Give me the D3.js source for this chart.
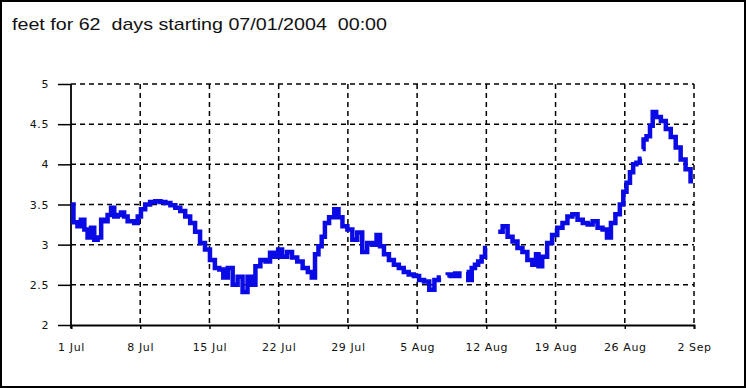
<!DOCTYPE html>
<html>
<head>
<meta charset="utf-8">
<script src="https://cdn.jsdelivr.net/npm/d3@7"></script>
<style>
  body { margin: 0; background: #fff; }
  svg { display: block; font-family: "Liberation Sans", Arial, sans-serif; }
</style>
</head>
<body>
<div id="my_dataviz"></div>
<script>
// title and axis settings
var title = "feet for 62  days starting 07/01/2004  00:00";
var startDate = Date.UTC(2004, 6, 1);
var endDate = Date.UTC(2004, 8, 2);
var yTicks = [2, 2.5, 3, 3.5, 4, 4.5, 5];
var xTickLabels = ["1 Jul", "8 Jul", "15 Jul", "22 Jul", "29 Jul", "5 Aug", "12 Aug", "19 Aug", "26 Aug", "2 Sep"];

// days since 07/01 00:00, null = missing record
var days = [
  0, 0.5, 0.8, 1.2, 1.5, 1.85, 2.2, 2.5, 2.9, 3.2, 3.5, 3.9, 4.2, 4.55, 4.9, 5.2, 5.55, 5.9, 6.2, 6.6, 6.9,
  7.25, 7.75, 8.25, 8.8, 9.3, 9.8, 10.3, 10.8, 11.3, 11.8, 12.3, 12.8, 13.3, 13.8, 14.3, 14.8,
  15.2, 15.6, 16.1, 16.6, 17.1, 17.6, 18.1, 18.4, 18.9, 19.4, 19.95, 20.3, 20.8, 21.1, 21.6, 22.1, 22.6,
  23.15, 23.7, 24.2, 24.5, 24.85, 25.2, 25.5, 25.85, 26.35, 26.9, 27.2, 27.7, 28.2, 28.7, 29.2, 29.7, 30.2,
  30.7, 31.1, 31.4, 31.9, 32.4, 32.9, 33.4, 33.9, 34.4, 34.95, 35.45, 35.95, 36.5, 37.0, 37.4,
  37.7, 38.05, 38.15, 38.65, 39.05, 39.5, 39.75, 40.0, 40.35, 40.7, 41.0, 41.35, 41.7, 42.05,
  42.6, 43.2, 43.4, 43.9, 44.4, 44.9, 45.4, 45.9, 46.4, 46.9, 47.15, 47.4, 47.9, 48.4, 48.9, 49.45,
  49.95, 50.45, 50.95, 51.5, 52.0, 52.5, 53.0, 53.5, 54.0, 54.4, 54.8, 55.3, 55.7, 56.0, 56.35, 56.7,
  57.0, 57.35, 57.7, 57.75, 57.8, 58.0, 58.4, 58.7, 58.95, 59.4, 59.9, 60.4, 60.9, 61.4, 61.9, 62.4, 62.9
];
var levels = [
  3.5, 3.28, 3.23, 3.31, 3.19, 3.09, 3.21, 3.06, 3.09, 3.31, 3.29, 3.37, 3.46, 3.35, 3.37, 3.4, 3.35, 3.29, 3.29, 3.27, 3.35,
  3.44, 3.5, 3.53, 3.54, 3.53, 3.52, 3.49, 3.46, 3.42, 3.35, 3.27, 3.16, 3.02, 2.94, 2.81, 2.71,
  2.69, 2.59, 2.71, 2.5, 2.6, 2.41, 2.6, 2.5, 2.73, 2.81, 2.79, 2.9, 2.85, 2.94, 2.85, 2.91, 2.84,
  2.79, 2.71, 2.66, 2.59, 2.88, 2.98, 3.1, 3.27, 3.34, 3.44, 3.34, 3.23, 3.19, 3.06, 3.15, 2.91, 3.02,
  3.0, 3.12, 2.98, 2.88, 2.81, 2.75, 2.71, 2.66, 2.63, 2.61, 2.56, 2.54, 2.44, 2.56, 2.59,
  null, 2.62, 2.63, 2.61, 2.64, 2.61, null, 2.66, 2.56, 2.71, 2.75, 2.79, 2.85, 2.96,
  null, 3.16, 3.16, 3.23, 3.1, 3.04, 2.96, 2.91, 2.81, 2.75, 2.88, 2.73, 2.85, 3.02, 3.12, 3.21,
  3.27, 3.35, 3.38, 3.31, 3.27, 3.25, 3.29, 3.21, 3.19, 3.09, 3.27, 3.38, 3.5, 3.66, 3.77, 3.9,
  4.0, 4.02, 4.07, null, 4.19, 4.31, 4.35, 4.48, 4.65, 4.59, 4.54, 4.44, 4.34, 4.21, 4.06, 3.94, 3.79
];

var data = days.map(function(d, i) {
  return { date: new Date(startDate + d * 864e5), value: levels[i] };
});

var W = 746, H = 388;

var svg = d3.select("#my_dataviz")
  .append("svg")
    .attr("width", W)
    .attr("height", H);

// outer frame
svg.append("rect")
  .attr("x", 1).attr("y", 1)
  .attr("width", W - 2).attr("height", H - 2)
  .attr("fill", "#fff")
  .attr("stroke", "#000")
  .attr("stroke-width", 2);

svg.append("text")
  .attr("x", 12)
  .attr("y", 30)
  .attr("font-size", 17)
  .attr("textLength", 375)
  .attr("lengthAdjust", "spacingAndGlyphs")
  .style("white-space", "pre")
  .attr("fill", "#111")
  .text(title);

var x = d3.scaleUtc()
  .domain([startDate, endDate])
  .range([71, 694]);

var y = d3.scaleLinear()
  .domain([2, 5])
  .range([325, 84]);

var xTickDates = xTickLabels.map(function(l, i) { return new Date(startDate + i * 7 * 864e5); });

// dashed grid
svg.append("g")
  .selectAll("line")
  .data(yTicks.filter(function(v) { return v > 2; }))
  .join("line")
    .attr("x1", 71).attr("x2", 694)
    .attr("y1", function(d) { return y(d); })
    .attr("y2", function(d) { return y(d); })
    .attr("stroke", "#000")
    .attr("stroke-width", 1.5)
    .attr("stroke-dasharray", "5,4");

svg.append("g")
  .selectAll("line")
  .data(xTickDates.slice(1))
  .join("line")
    .attr("x1", function(d) { return x(d); })
    .attr("x2", function(d) { return x(d); })
    .attr("y1", 84).attr("y2", 325)
    .attr("stroke", "#000")
    .attr("stroke-width", 1.5)
    .attr("stroke-dasharray", "5,4");

// Y axis
var yAxis = svg.append("g")
  .attr("transform", "translate(71,0)")
  .call(d3.axisLeft(y).tickValues(yTicks).tickSize(13).tickPadding(9)
    .tickFormat(function(d) { return String(d); }));

// X axis
var xAxis = svg.append("g")
  .attr("transform", "translate(0,325)")
  .call(d3.axisBottom(x).tickValues(xTickDates).tickSize(4).tickPadding(14)
    .tickFormat(function(d, i) { return xTickLabels[i]; }));

[yAxis, xAxis].forEach(function(a) {
  a.select(".domain").attr("stroke", "#000").attr("stroke-width", 1.8);
  a.selectAll(".tick line").attr("stroke", "#000").attr("stroke-width", 1.5);
  a.selectAll(".tick text")
    .attr("fill", "#111")
    .attr("font-size", 11)
    .attr("letter-spacing", 0.6)
    .attr("font-family", "'DejaVu Sans', sans-serif");
});
yAxis.select(".domain").attr("d", "M0,84V328");

// Add the line
svg.append("path")
  .datum(data)
  .attr("fill", "none")
  .attr("stroke", "#0a0ae6")
  .attr("stroke-width", 4.5)
  .attr("stroke-linejoin", "miter")
  .attr("d", d3.line()
    .defined(function(d) { return d.value != null; })
    .curve(d3.curveStep)
    .x(function(d) { return x(d.date); })
    .y(function(d) { return y(d.value); })
  );
</script>
</body>
</html>
